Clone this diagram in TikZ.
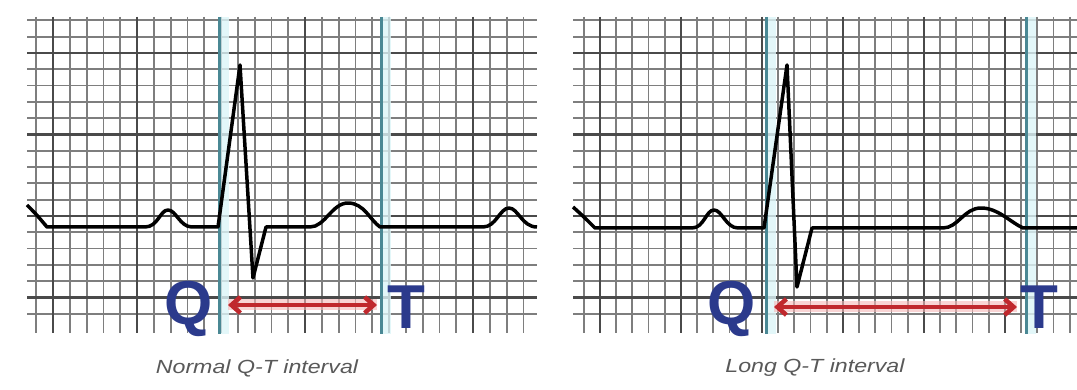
\documentclass[tikz,border=0pt]{standalone}
\usepackage{fontspec}
\setmainfont{Liberation Sans}
\usepackage{tikz}
\usetikzlibrary{arrows.meta}
\definecolor{qtnavy}{HTML}{2B3A8C}
\definecolor{qtteal}{HTML}{4A8894}
\definecolor{qtcyan}{HTML}{DDF5F8}
\definecolor{qtred}{HTML}{C0282D}
\definecolor{qtpink}{HTML}{F5B8B8}
\definecolor{qtminor}{HTML}{7E7E7E}
\definecolor{qtmajor}{HTML}{4A4A4A}

\begin{document}
\begin{tikzpicture}[x=1pt, y=-1pt,
  minor/.style={draw=qtminor, line width=1.8pt},
  major/.style={draw=qtmajor, line width=2.2pt},
  marker/.style={draw=qtteal, line width=3pt},
  band/.style={fill=qtcyan, opacity=0.8},
  trace/.style={draw=black, line width=3.5pt, line join=round},
  letter/.style={text=qtnavy, font=\fontsize{62}{62}\selectfont\bfseries, inner sep=0pt, anchor=base},
  span/.style={draw=qtred, line width=4.5pt, {Straight Barb[length=9pt,width=16pt]}-{Straight Barb[length=9pt,width=16pt]}},
  glow/.style={draw=qtpink, line width=11pt, opacity=0.6},
  caption/.style={text=black!65, font=\fontsize{19}{19}\selectfont\itshape}]
\useasboundingbox[fill=white] (0,0) rectangle (1077,390);
% grid, normal panel
\foreach \k in {0,...,29} \draw[minor] (36.2+16.8*\k,17) -- (36.2+16.8*\k,333);
\foreach \k in {0,...,18} \draw[minor] (27,20.4+16.3*\k) -- (537,20.4+16.3*\k);
\foreach \k in {1,6,...,26} \draw[major] (36.2+16.8*\k,17) -- (36.2+16.8*\k,333);
\foreach \k in {2,7,12,17} \draw[major] (27,20.4+16.3*\k) -- (537,20.4+16.3*\k);
% grid, long panel
\foreach \k in {0,...,30} \draw[minor] (583.6+16.2*\k,17) -- (583.6+16.2*\k,333);
\foreach \k in {0,...,18} \draw[minor] (573,20.4+16.3*\k) -- (1077,20.4+16.3*\k);
\foreach \k in {1,6,...,26} \draw[major] (583.6+16.2*\k,17) -- (583.6+16.2*\k,333);
\foreach \k in {2,7,12,17} \draw[major] (573,20.4+16.3*\k) -- (1077,20.4+16.3*\k);
% Q and T markers
\foreach \x in {219,381,766,1026} {
  \fill[band] (\x+1.5,17) rectangle (\x+10,334);
  \draw[marker] (\x,17) -- (\x,334);
}
% traces
\draw[trace] (27,205) .. controls (36,214) .. (47,227) -- (145,227)
  .. controls (158,227) and (160,210) .. (168,210) .. controls (176,210) and (180,227) .. (192,227)
  -- (218,227) -- (240,65) -- (253,278) -- (266,227) -- (310,227)
  .. controls (325,227) and (332,203) .. (348,203) .. controls (364,203) and (370,220) .. (380,227)
  -- (483,227) .. controls (496,227) and (500,208) .. (509,208)
  .. controls (518,208) and (522,227) .. (537,227);
\draw[trace] (573,207) .. controls (583,216) .. (595,228) -- (692,228)
  .. controls (704,228) and (706,210) .. (714,210) .. controls (722,210) and (726,228) .. (738,228)
  -- (764,228) -- (787,65) -- (797,287) -- (812,228) -- (943,228)
  .. controls (958,228) and (964,208) .. (981,208) .. controls (998,208) and (1010,222) .. (1023,228)
  -- (1077,228);
% labels
\node[letter] (qnormal) at (189,324) {Q};
\node[letter] (tnormal) at (406,328) {T};
\node[letter] (qlong) at (732,324) {Q};
\node[letter] (tlong) at (1039,328) {T};
\coordinate (qn) at (228,305);
\coordinate (tn) at (377,305);
\coordinate (ql) at (774,307);
\coordinate (tl) at (1017,307);
\draw[glow] (qn) -- (tn);
\draw[glow] (ql) -- (tl);
\draw[span] (qn) -- (tn);
\draw[span] (ql) -- (tl);
\node[caption] (capnormal) at (257,368) {\scalebox{1.22}[1]{Normal Q-T interval}};
\node[caption] (caplong) at (815,368) {\scalebox{1.22}[1]{Long Q-T interval}};
\end{tikzpicture}
\end{document}
